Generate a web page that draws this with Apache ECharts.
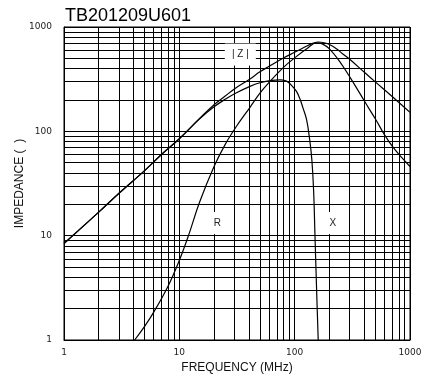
<!DOCTYPE html>
<html>
<head>
<meta charset="utf-8">
<script src="https://cdn.jsdelivr.net/npm/echarts@6/dist/echarts.min.js"></script>
<style>html,body{margin:0;padding:0;background:#fff;}#c{width:429px;height:381px;}</style>
</head>
<body>
<div id="c"></div>
<script>
// ---- data (frequency MHz, ohms) ----
const zFreq = [1, 2, 3, 5, 7, 10, 15, 20, 25, 30, 41, 50, 60, 80, 100, 130, 145, 160, 180, 200, 230, 260, 300, 400, 500, 700, 1000];
const zVals = [8.4, 16.8, 25.5, 42, 60, 85, 133, 180, 218, 255, 318, 372, 420, 505, 572, 665, 700, 718, 706, 680, 620, 555, 490, 370, 298, 216, 152];

const rFreq = [4.1, 5, 6, 8, 10, 12, 15, 20, 25, 31, 41, 50, 61, 80, 100, 130, 155, 175, 200, 246, 307, 406, 506, 600, 709, 850, 1000];
const rVals = [1, 1.35, 1.85, 3.3, 5.8, 10, 21, 46, 75, 110, 170, 232, 300, 410, 506, 630, 706, 685, 617, 466, 320, 192, 129, 93, 71, 56, 46];

const xFreq = [1, 2, 3, 5, 7, 10, 15, 20, 25, 31, 41, 50, 61, 75, 85, 91, 97, 104, 111, 118, 127, 135, 141, 146, 150, 155, 160];
const xVals = [8.4, 16.8, 25.5, 42, 60, 85, 132, 172, 203, 233, 270, 292, 306, 312, 303, 286, 265, 240, 205, 168, 129, 83, 53, 27, 10, 3, 1];

const xTickLabels = ['1', '10', '100', '1000'];
const yTickLabels = ['1', '10', '100', '1000'];
const minorValues = [2, 3, 4, 5, 6, 7, 8, 9, 20, 30, 40, 50, 60, 70, 80, 90, 200, 300, 400, 500, 600, 700, 800, 900];

const curveLabels = [
  { text: '| Z |', f: 33.8, v: 544, w: 31, h: 22 },
  { text: 'R', f: 21.4, v: 13.2, w: 16, h: 22 },
  { text: 'X', f: 214, v: 13.2, w: 16, h: 22 }
];

const FONT = 'Liberation Sans';
const pair = (fs, vs) => fs.map((f, i) => [f, vs[i]]);
const tickFmt = labels => v => labels[Math.round(Math.log10(v))] ?? '';

const chart = echarts.init(document.getElementById('c'), null, { renderer: 'canvas' });
const curveStyle = { color: '#000', width: 1.2 };

chart.setOption({
  animation: false,
  backgroundColor: '#fff',
  title: {
    text: 'TB201209U601', left: 60, top: 2,
    textStyle: { fontSize: 18, fontWeight: 'normal', color: '#000', fontFamily: FONT }
  },
  grid: { left: 64, right: 19, top: 27, bottom: 41, containLabel: false, outerBoundsMode: 'none',
          show: true, borderColor: '#000', borderWidth: 1, backgroundColor: 'transparent' },
  xAxis: {
    type: 'log', logBase: 10, min: 1, max: 1000, splitNumber: 3,
    name: 'FREQUENCY (MHz)', nameLocation: 'middle', nameGap: 22, nameMoveOverlap: false,
    nameTextStyle: { fontSize: 12, color: '#111', fontFamily: FONT },
    axisLine: { show: true, lineStyle: { color: '#000', width: 1 } },
    axisTick: { show: false },
    axisLabel: { fontSize: 9, color: '#222', margin: 8, fontFamily: 'DejaVu Sans', showMinLabel: true, showMaxLabel: true, hideOverlap: false, formatter: tickFmt(xTickLabels) },
    splitLine: { show: true, lineStyle: { color: '#000', width: 1 } }
  },
  yAxis: {
    type: 'log', logBase: 10, min: 1, max: 1000, splitNumber: 3,
    name: 'IMPEDANCE (  )', nameLocation: 'middle', nameGap: 38, nameRotate: 90, nameMoveOverlap: false,
    nameTextStyle: { fontSize: 12, color: '#111', fontFamily: FONT },
    axisLine: { show: true, lineStyle: { color: '#000', width: 1 } },
    axisTick: { show: false },
    axisLabel: { fontSize: 9, color: '#222', margin: 12, fontFamily: 'DejaVu Sans', showMinLabel: true, showMaxLabel: true, hideOverlap: false, formatter: tickFmt(yTickLabels) },
    splitLine: { show: true, lineStyle: { color: '#000', width: 1 } }
  },
  series: [
    {
      name: 'grid', type: 'line', data: [], silent: true, z: 1,
      markLine: {
        silent: true, symbol: ['none', 'none'], animation: false,
        label: { show: false },
        lineStyle: { color: '#000', width: 1, type: 'solid' },
        emphasis: { disabled: true },
        data: minorValues.map(v => ({ xAxis: v })).concat(minorValues.map(v => ({ yAxis: v })))
      }
    },
    { name: '|Z|', type: 'line', data: pair(zFreq, zVals), showSymbol: false, smooth: 0.4, lineStyle: curveStyle, z: 3 },
    { name: 'R', type: 'line', data: pair(rFreq, rVals), showSymbol: false, smooth: 0.4, lineStyle: curveStyle, z: 3 },
    { name: 'X', type: 'line', data: pair(xFreq, xVals), showSymbol: false, smooth: 0.4, lineStyle: curveStyle, z: 3 },
    {
      name: 'labels', type: 'line', data: [], silent: true, z: 10,
      markPoint: {
        silent: true, animation: false,
        data: curveLabels.map(l => ({
          coord: [l.f, l.v], symbol: 'rect', symbolSize: [l.w, l.h],
          itemStyle: { color: '#fff' },
          label: { show: true, position: 'inside', formatter: l.text, color: '#222', fontSize: 10, fontFamily: FONT }
        }))
      }
    }
  ]
});
</script>
</body>
</html>
